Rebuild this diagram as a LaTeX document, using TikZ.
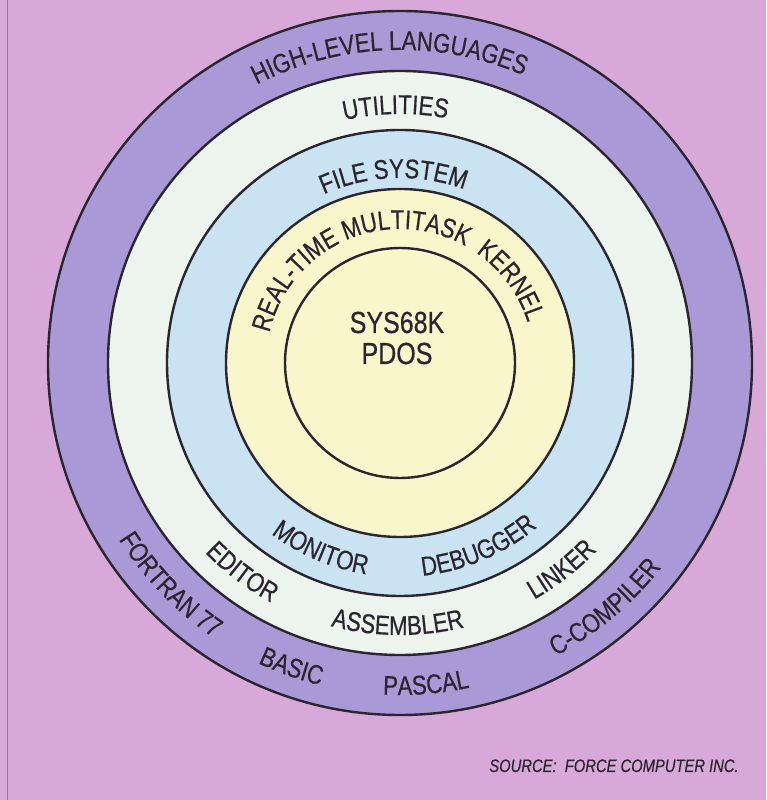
\documentclass[tikz,border=0pt]{standalone}
\usepackage{fontspec}
\setmainfont{Liberation Sans}[FakeStretch=0.82, FakeBold=0.5]
\usetikzlibrary{decorations.text}
\definecolor{bgpink}{HTML}{D8A8D8}
\definecolor{ringpurple}{HTML}{A999D6}
\definecolor{ringwhite}{HTML}{EDF4EE}
\definecolor{ringblue}{HTML}{C9E3F2}
\definecolor{ringyellow}{HTML}{FAF6CC}
\definecolor{ink}{HTML}{2B2530}
\definecolor{edgeline}{HTML}{8E7A95}
\newcommand\ringfont{\fontsize{27}{32}\selectfont}
\tikzset{
  disc/.style={circle, draw=ink, line width=2.4pt, inner sep=0pt},
  arclabel/.style={decorate, decoration={text along path, text align=center, text color=ink, text={|\ringfont|#1}}},
  arclabelleft/.style={decorate, decoration={text along path, text align=left, text color=ink, text={|\ringfont|#1}}},
}
\begin{document}
\begin{tikzpicture}[x=1pt,y=1pt]
\useasboundingbox (0,0) rectangle (766,800);
\fill[bgpink] (0,0) rectangle (766,800);
\draw[edgeline, line width=1pt] (7,0) -- (7,800);
\begin{scope}[shift={(400,437)}]
  \node[disc, fill=ringpurple, minimum size=704pt] (lang) at (0,0) {};
  \node[disc, fill=ringwhite, minimum size=584pt] (util) at (0,0) {};
  \node[disc, fill=ringblue, minimum size=466pt] (files) at (0,0) {};
  \node[disc, fill=ringyellow, minimum size=348pt] (kernel) at (0,0) {};
  \node[disc, fill=ringyellow, minimum size=230pt] (core) at (0,0) {};
  \node[font=\fontsize{30.5}{31}\selectfont, align=center, text=ink] (coretext) at (-3,25) {SYS68K\\PDOS};
  % top labels (clockwise)
  \path[arclabel={HIGH-LEVEL LANGUAGES}] (162:313) arc[start angle=162, end angle=22, radius=313];
  \path[arclabel={UTILITIES}] (151:249) arc[start angle=151, end angle=31, radius=249];
  \path[arclabel={FILE SYSTEM}] (162:185) arc[start angle=162, end angle=22, radius=185];
  \path[arclabelleft={REAL-TIME MULTITASK}] (167:134) arc[start angle=167, end angle=0, radius=134];
  \path[arclabel={KERNEL}] (96.5:134) arc[start angle=96.5, end angle=-23.5, radius=134];
  % bottom labels (counter-clockwise)
  \path[arclabel={MONITOR}] (197:214) arc[start angle=197, end angle=297, radius=214];
  \path[arclabel={DEBUGGER}] (243:214) arc[start angle=243, end angle=343, radius=214];
  \path[arclabel={EDITOR}] (183:272) arc[start angle=183, end angle=283, radius=272];
  \path[arclabel={ASSEMBLER}] (219.5:272) arc[start angle=219.5, end angle=319.5, radius=272];
  \path[arclabel={LINKER}] (258:272) arc[start angle=258, end angle=358, radius=272];
  \path[arclabel={FORTRAN 77}] (174:332) arc[start angle=174, end angle=274, radius=332];
  \path[arclabel={BASIC}] (200.4:332) arc[start angle=200.4, end angle=300.4, radius=332];
  \path[arclabel={PASCAL}] (224.6:332) arc[start angle=224.6, end angle=324.6, radius=332];
  \path[arclabel={C-COMPILER}] (260:332) arc[start angle=260, end angle=360, radius=332];
\end{scope}
\node[font=\itshape\fontsize{18}{20}\selectfont, text=ink, anchor=base] (source) at (614,28) {SOURCE:\ \ FORCE COMPUTER INC.};
\end{tikzpicture}
\end{document}
